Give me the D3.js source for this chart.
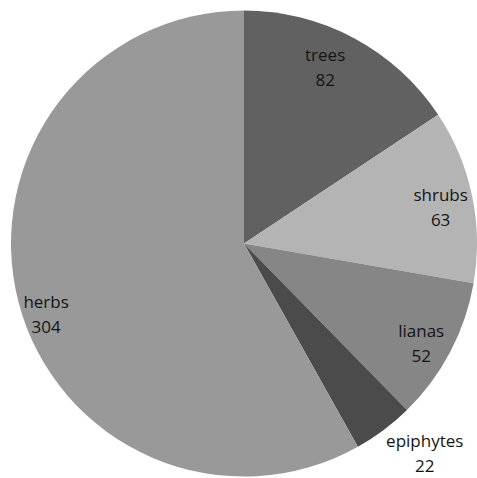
<!DOCTYPE html>
<html>
<head>
<meta charset="utf-8">
<script src="https://cdn.jsdelivr.net/npm/d3@7"></script>
<style>
  html, body { margin: 0; padding: 0; background: #fff; }
  svg { display: block; }
  text { font-family: "Open Sans", "Liberation Sans", sans-serif; font-size: 17px; fill: #141414; }
</style>
</head>
<body>
<svg id="chart" width="477" height="478"></svg>
<script>
// Growth forms and species counts
const categories = ["trees", "shrubs", "lianas", "epiphytes", "herbs"];
const counts = [82, 63, 52, 22, 304];
const sliceColors = ["#616161", "#b4b4b4", "#868686", "#4b4b4b", "#999999"];

// Label placement: distance from centre and angular nudge (degrees)
const labelRadius = [194, 200, 203, 277, 210];
const labelNudge = [-3.5, 1.3, 1.5, -3.9, -4.9];

const width = 477, height = 478;
const cx = 244, cy = 243.5, radius = 233;

const svg = d3.select("#chart");
const g = svg.append("g").attr("transform", `translate(${cx},${cy})`);

const data = categories.map((c, i) => ({ name: c, value: counts[i], color: sliceColors[i], i }));

const pie = d3.pie().value(d => d.value).sort(null);
const arc = d3.arc().innerRadius(0).outerRadius(radius);
const arcs = pie(data);

g.selectAll("path.slice")
  .data(arcs)
  .join("path")
  .attr("class", "slice")
  .attr("d", arc)
  .attr("fill", d => d.data.color);

const labels = g.selectAll("g.label")
  .data(arcs)
  .join("g")
  .attr("class", "label")
  .attr("transform", d => {
    const a = (d.startAngle + d.endAngle) / 2 + labelNudge[d.data.i] * Math.PI / 180;
    const r = labelRadius[d.data.i];
    return `translate(${r * Math.sin(a)},${-r * Math.cos(a)})`;
  });

labels.append("text")
  .attr("text-anchor", "middle")
  .attr("y", -6)
  .text(d => d.data.name);

labels.append("text")
  .attr("text-anchor", "middle")
  .attr("y", 19)
  .text(d => d.data.value);
</script>
</body>
</html>
